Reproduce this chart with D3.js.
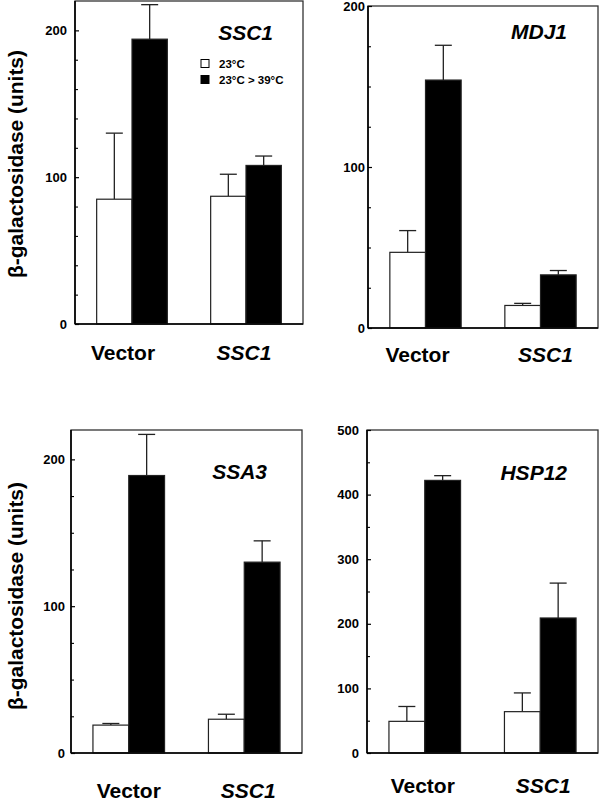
<!DOCTYPE html>
<html>
<head>
<meta charset="utf-8">
<script src="https://cdn.jsdelivr.net/npm/d3@7"></script>
<style>
  html, body { margin: 0; padding: 0; background: #fff; }
  svg { display: block; font-family: "Liberation Sans", Arial, Helvetica, sans-serif; }
</style>
</head>
<body>
<script>
// ---------------- data ----------------
const panelTitles = ["SSC1", "MDJ1", "SSA3", "HSP12"];
const groups = ["Vector", "SSC1"];
const seriesNames = ["23°C", "23°C > 39°C"];
// values per panel: [Vector, SSC1]
const mean23 = [[85, 87], [47, 14], [19, 23], [49, 64]];
const err23 = [[45, 15], [13.5, 1.3], [1.1, 3.4], [23, 29]];
const meanHeat = [[194, 108], [154, 33], [189, 130], [422, 209]];
const errHeat = [[23.5, 6.4], [21.6, 2.7], [28, 14.5], [7.3, 54]];
const yMax = [220, 200, 220, 500];
const majorTicks = [[0, 100, 200], [0, 100, 200], [0, 100, 200], [0, 100, 200, 300, 400, 500]];
const minorTicks = [
  [20, 40, 60, 80, 120, 140, 160, 180],
  [25, 50, 75, 125, 150, 175],
  [25, 50, 75, 125, 150, 175],
  [50, 150, 250, 350, 450]
];
const yTitle = "β-galactosidase (units)";

// ---------------- layout ----------------
const boxes = [
  { l: 75, r: 303, t: 1, b: 324 },
  { l: 368, r: 598, t: 6, b: 328 },
  { l: 71, r: 302, t: 430, b: 753 },
  { l: 367, r: 598, t: 430, b: 753 }
];
const tickPad = [8, 3, 6, 8];
const xLabelBase = [360, 362, 798, 793];
const xLabelDx = [[-9, -2], [-8, 5], [0, 4], [-2, 3]];
const titleInset = [30, 31, 35, 31];
const titleBase = [40, 39, 479, 480];

const svg = d3.select("body").append("svg").attr("width", 599).attr("height", 804);

panelTitles.forEach((title, i) => {
  const b = boxes[i];
  const g = svg.append("g");
  const y = d3.scaleLinear().domain([0, yMax[i]]).range([b.b, b.t]);
  const x0 = d3.scaleBand().domain(groups).range([b.l, b.r]).paddingInner(0.38).paddingOuter(0.19);
  const x1 = d3.scaleBand().domain(seriesNames).range([0, x0.bandwidth()]);

  const rows = [];
  groups.forEach((grp, gi) => {
    rows.push({ grp, s: seriesNames[0], v: mean23[i][gi], e: err23[i][gi] });
    rows.push({ grp, s: seriesNames[1], v: meanHeat[i][gi], e: errHeat[i][gi] });
  });

  // error bars
  const eb = g.append("g").attr("stroke", "#222").attr("stroke-width", 1.3);
  rows.forEach(d => {
    const cx = x0(d.grp) + x1(d.s) + x1.bandwidth() / 2;
    eb.append("line").attr("x1", cx).attr("x2", cx).attr("y1", y(d.v)).attr("y2", y(d.v + d.e));
    eb.append("line").attr("x1", cx - 8.5).attr("x2", cx + 8.5).attr("y1", y(d.v + d.e)).attr("y2", y(d.v + d.e));
  });

  // bars
  g.append("g").selectAll("rect").data(rows).join("rect")
    .attr("x", d => x0(d.grp) + x1(d.s))
    .attr("y", d => y(d.v))
    .attr("width", x1.bandwidth())
    .attr("height", d => y(0) - y(d.v))
    .attr("fill", d => d.s === seriesNames[0] ? "#fff" : "#000")
    .attr("stroke", "#222")
    .attr("stroke-width", 1.2);

  // frame
  g.append("rect").attr("x", b.l).attr("y", b.t).attr("width", b.r - b.l).attr("height", b.b - b.t)
    .attr("fill", "none").attr("stroke", "#333").attr("stroke-width", 1.3);
  g.append("line").attr("x1", b.l).attr("x2", b.l).attr("y1", b.t).attr("y2", b.b)
    .attr("stroke", "#000").attr("stroke-width", 1.6);
  g.append("line").attr("x1", b.l).attr("x2", b.r).attr("y1", b.b).attr("y2", b.b)
    .attr("stroke", "#000").attr("stroke-width", 1.6);

  // y axis major
  const ax = g.append("g").attr("transform", `translate(${b.l},0)`)
    .call(d3.axisLeft(y).tickValues(majorTicks[i]).tickSize(-4).tickPadding(tickPad[i]).tickFormat(d3.format("d")));
  ax.select(".domain").remove();
  ax.selectAll(".tick line").attr("stroke", "#000").attr("stroke-width", 1.2);
  ax.selectAll(".tick text").attr("fill", "#000")
    .style("font-family", "'Liberation Sans', Arial, sans-serif")
    .style("font-size", "13px").style("font-weight", "bold");
  // minor
  const axm = g.append("g").attr("transform", `translate(${b.l},0)`)
    .call(d3.axisLeft(y).tickValues(minorTicks[i]).tickSize(-3).tickFormat(""));
  axm.select(".domain").remove();
  axm.selectAll(".tick line").attr("stroke", "#000").attr("stroke-width", 1.1);

  // x labels
  groups.forEach((grp, gi) => {
    g.append("text")
      .attr("x", x0(grp) + x0.bandwidth() / 2 + xLabelDx[i][gi])
      .attr("y", xLabelBase[i])
      .attr("text-anchor", "middle")
      .style("font-size", "21px").style("font-weight", "bold")
      .style("font-style", grp === "Vector" ? "normal" : "italic")
      .text(grp);
  });

  // panel title
  g.append("text")
    .attr("x", b.r - titleInset[i]).attr("y", titleBase[i])
    .attr("text-anchor", "end")
    .style("font-size", "21px").style("font-weight", "bold").style("font-style", "italic")
    .text(title);

  // y title on left panels
  if (i % 2 === 0) {
    g.append("text")
      .attr("transform", `translate(23,${i === 0 ? 164 : 596}) rotate(-90)`)
      .attr("text-anchor", "middle")
      .attr("textLength", 228)
      .attr("lengthAdjust", "spacingAndGlyphs")
      .style("font-size", "21px").style("font-weight", "bold")
      .text(yTitle);
  }

  // legend (first panel)
  if (i === 0) {
    const lg = g.append("g");
    seriesNames.forEach((s, si) => {
      lg.append("rect").attr("x", 201).attr("y", 59.5 + si * 16).attr("width", 8).attr("height", 8)
        .attr("fill", si === 0 ? "#fff" : "#000").attr("stroke", "#000").attr("stroke-width", 1);
      lg.append("text").attr("x", 219).attr("y", 67.5 + si * 16)
        .style("font-size", "11.5px").style("font-weight", "bold").text(s);
    });
  }
});
</script>
</body>
</html>
